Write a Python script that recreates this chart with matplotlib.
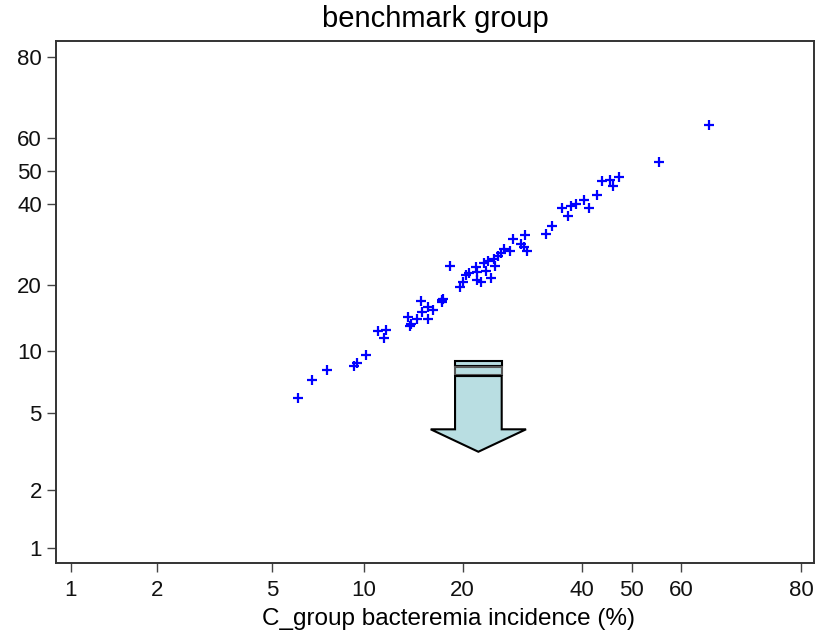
import numpy as np
import matplotlib
matplotlib.use("Agg")
import matplotlib.pyplot as plt
from matplotlib.patches import Polygon, Rectangle
from matplotlib.ticker import FixedLocator, NullLocator, FixedFormatter

plt.rcParams['font.family'] = ['Liberation Sans', 'DejaVu Sans']

# C_group incidence (%) vs benchmark incidence (%)
c_group = [6.1, 6.8, 7.6, 9.3, 9.5, 10.2, 11.1, 11.8, 11.6, 13.8,
           14.0, 14.1, 14.7, 15.2, 15.1, 15.8, 16.4, 15.8, 17.4, 17.6,
           17.5, 18.4, 19.7, 20.0, 20.5, 20.8, 21.8, 21.9, 21.9, 22.5,
           22.9, 23.5, 23.3, 24.0, 24.6, 24.5, 25.0, 25.5, 26.0, 26.9,
           27.5, 28.8, 29.3, 29.8, 29.4, 33.2, 34.3, 36.1, 37.3, 37.8,
           38.7, 40.4, 41.4, 43.0, 44.0, 45.6, 46.1, 47.4, 55.5, 65.4]
benchmark = [5.9, 7.3, 8.1, 8.5, 8.8, 9.6, 12.5, 12.6, 11.6, 14.5,
             13.2, 13.4, 14.1, 15.2, 17.1, 16.0, 15.5, 14.1, 17.2, 17.3,
             16.9, 23.9, 19.6, 20.6, 22.0, 22.4, 23.7, 22.7, 20.9, 20.6,
             24.6, 25.0, 22.9, 21.4, 23.9, 25.5, 26.1, 26.9, 27.9, 27.3,
             30.3, 29.2, 28.3, 27.4, 31.5, 31.6, 33.9, 39.0, 36.7, 39.5,
             40.1, 41.1, 38.9, 42.8, 47.0, 47.3, 45.5, 48.1, 52.6, 63.5]

ticks = [1, 2, 5, 10, 20, 40, 50, 60, 80]
tick_labels = ['1', '2', '5', '10', '20', '40', '50', '60', '80']


def fwd(p):
    p = np.clip(np.asarray(p, dtype=float), 1e-6, 100 - 1e-6)
    return np.log(p / (100 - p))


def inv(z):
    return 100 / (1 + np.exp(-np.asarray(z, dtype=float)))


fig = plt.figure(figsize=(8.29, 6.37), dpi=100)
ax = fig.add_axes([0.0672, 0.1169, 0.9151, 0.8192])

ax.plot(c_group, benchmark, '+', color='#0000ff', markersize=7.5, mew=1.6)

for set_scale in (ax.set_xscale, ax.set_yscale):
    set_scale('function', functions=(fwd, inv))
ax.set_xlim(0.884, 81.7)
ax.set_ylim(0.841, 83.0)

for axis in (ax.xaxis, ax.yaxis):
    axis.set_major_locator(FixedLocator(ticks))
    axis.set_major_formatter(FixedFormatter(tick_labels))
    axis.set_minor_locator(NullLocator())

for s in ax.spines.values():
    s.set_color('#333333')
    s.set_linewidth(1.4)
ax.tick_params(axis='both', direction='out', length=6.5, width=1,
               color='#444444', labelsize=16, labelcolor='#111111')
ax.tick_params(axis='x', pad=6)
ax.tick_params(axis='y', pad=3.5)

ax.set_title('benchmark group', fontsize=21, pad=10)
ax.set_xlabel('C_group bacteremia incidence (%)', fontsize=17.5)
ax.xaxis.set_label_coords(0.518, -0.088)

# down arrow
fill = '#b9dee2'
ax.add_patch(Rectangle((0.5264, 0.3766), 0.0615, 0.0096, transform=ax.transAxes,
                       facecolor=fill, edgecolor='black', lw=1.5))
ax.add_patch(Rectangle((0.5264, 0.3593), 0.0615, 0.0148, transform=ax.transAxes,
                       facecolor=fill, edgecolor='#555555', lw=1.5))
arrow = [(0.5264, 0.3574), (0.5879, 0.3574), (0.5879, 0.2553), (0.6200, 0.2553),
         (0.5571, 0.2123), (0.4943, 0.2553), (0.5264, 0.2553)]
ax.add_patch(Polygon(arrow, closed=True, transform=ax.transAxes,
                     facecolor=fill, edgecolor='black', lw=1.5))

fig.savefig('out.png', dpi=100)
